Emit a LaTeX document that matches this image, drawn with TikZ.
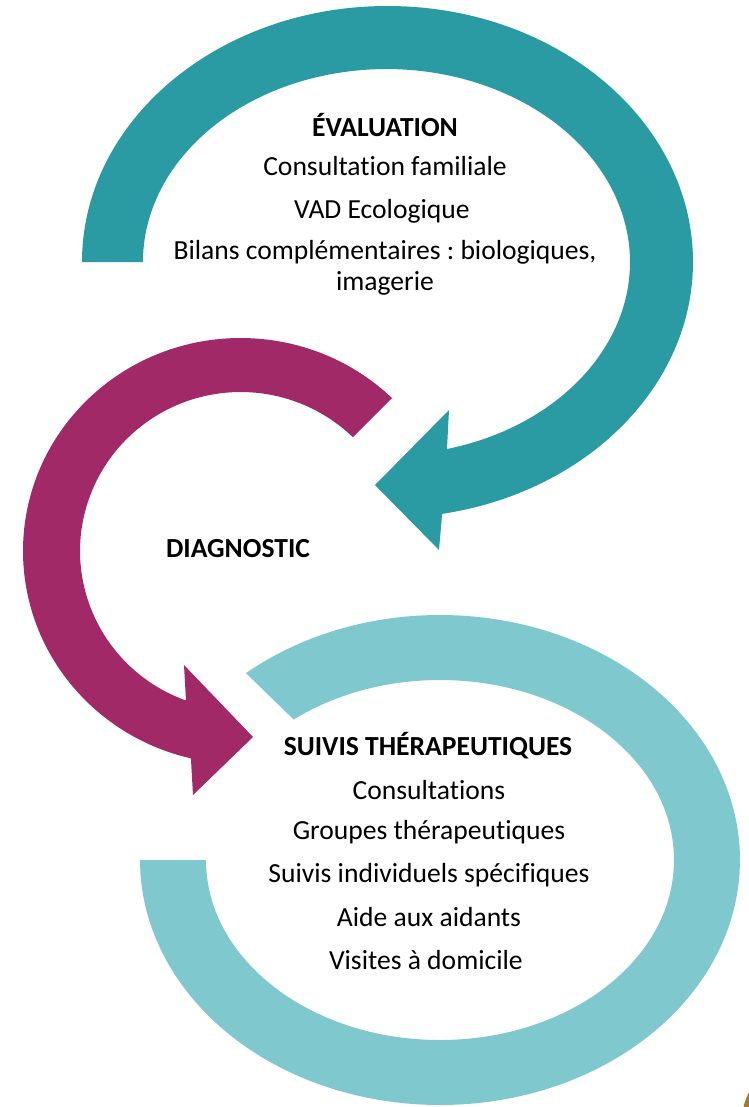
\documentclass[tikz,border=0pt]{standalone}
\usepackage{fontspec}
\setmainfont{Carlito}[Ligatures=NoCommon]
\usepackage{xcolor}
\definecolor{evalteal}{RGB}{43,155,163}
\definecolor{diagplum}{RGB}{162,41,103}
\definecolor{suivteal}{RGB}{127,200,206}
\definecolor{cornergold}{RGB}{166,122,46}
\frenchspacing

\tikzset{
  itemtext/.style={font=\fontsize{15.7}{17.6}\selectfont, text=black, inner sep=0pt, align=center},
  headtext/.style={itemtext, font=\fontsize{15.7}{17.6}\selectfont\bfseries}
}

\begin{document}
\begin{tikzpicture}[x=0.02cm, y=-0.02cm]

% Page frame
\useasboundingbox (0,0) rectangle (749,1107);

% Corner of the gold shape, cut by the page
\begin{scope}
\clip (0,0) rectangle (749,1107);
\fill[cornergold] (800,1120) circle (58);
\end{scope}

% Top arrow (evaluation)
\fill[evalteal] ({387.5+305.5*cos(180)},{262+256*sin(180)})
  arc[start angle=180, end angle=439.7, x radius=305.5, y radius=256]
  -- (439,550) -- (375,485) -- (449,410) -- (447,449)
  arc[start angle=435.6, end angle=180, x radius=243.5, y radius=193]
  -- cycle;

% Middle arrow (diagnostic)
\fill[diagplum] ({240.6+217.6*cos(314.1)},{551+213*sin(314.1)})
  arc[start angle=314.1, end angle=103.2, x radius=217.6, y radius=213]
  -- (193,795) -- (253,737) -- (184,665) -- (186,700.5)
  arc[start angle=109.9, end angle=314.3, x radius=160.6, y radius=159]
  -- cycle;

% Bottom ring (follow-up)
\fill[suivteal] ({440+300*cos(229.7)},{860+245*sin(229.7)})
  arc[start angle=229.7, end angle=540, x radius=300, y radius=245]
  -- (206,860)
  arc[start angle=540, end angle=231.3, x radius=234, y radius=180]
  -- cycle;

% Evaluation text
\node[headtext] (evaltitle) at (385,125) {ÉVALUATION};
\foreach \y/\txt [count=\i] in {
166/Consultation familiale,
211/VAD Ecologique
}{
\node[itemtext] (evalitem\i) at (385,\y) {\txt};
}
\node[itemtext] (evalbilans) at (385,267.5) {Bilans complémentaires : biologiques,\\imagerie};

% Diagnostic text
\node[headtext] (diagtitle) at (238,549) {DIAGNOSTIC};

% Follow-up text
\node[headtext] (suivtitle) at (428,746) {SUIVIS THÉRAPEUTIQUES};
\foreach \y/\txt [count=\i] in {
790/Consultations,
832/Groupes thérapeutiques,
875/Suivis individuels spécifiques,
917/Aide aux aidants,
960/Visites à domicile
}{
\node[itemtext] (suivitem\i) at (429,\y) {\txt};
}

\end{tikzpicture}
\end{document}
